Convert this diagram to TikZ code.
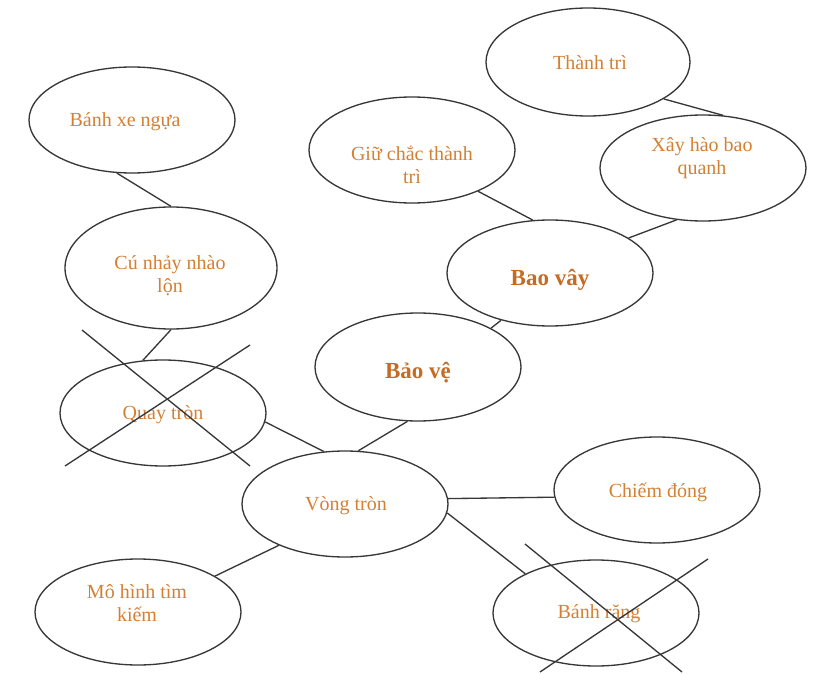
\documentclass[tikz,border=0pt]{standalone}
\usepackage{fontspec}
\setmainfont{Liberation Serif}
\usetikzlibrary{shapes.geometric}
\definecolor{txt}{RGB}{212,128,52}
\definecolor{txtb}{RGB}{196,108,36}
\definecolor{ln}{RGB}{55,55,55}
\begin{document}
\begin{tikzpicture}[x=0.75pt,y=-0.75pt,
  bub/.style={draw=ln, line width=1pt, ellipse, inner sep=0pt,
    minimum width=154.5pt, minimum height=79.5pt},
  lbl/.style={text=txt, align=center, inner sep=0pt,
    font=\fontsize{15pt}{17.25pt}\selectfont},
  lblb/.style={text=txtb, align=center, inner sep=0pt,
    font=\fontsize{17.25pt}{19pt}\selectfont\bfseries},
  link/.style={draw=ln, line width=1pt},
  cross/.style={draw=ln, line width=1pt}]
\useasboundingbox[fill=white] (0,0) rectangle (836,674);

% ellipses
\node[bub] (bx) at (132,120) {};
\node[bub, minimum width=159pt, minimum height=91.5pt] (cn) at (171,268) {};
\node[bub] (qt) at (163,413) {};
\node[bub] (gc) at (412,150) {};
\node[bub, minimum width=153pt, minimum height=81pt] (tt) at (588,62) {};
\node[bub] (xh) at (703,168) {};
\node[bub] (bv) at (550,273) {};
\node[bub, minimum height=81pt] (bve) at (418,367) {};
\node[bub] (vt) at (345,504) {};
\node[bub] (cd) at (657,490) {};
\node[bub] (mh) at (138,612) {};
\node[bub] (br) at (596,613) {};

% labels
\node[lbl] (bxt) at (125,122) {Bánh xe ngựa};
\node[lbl] (cnt) at (170,276) {Cú nhảy nhào\\lộn};
\node[lbl] (qtt) at (163,415) {Quay tròn};
\node[lbl] (gct) at (412,165) {Giữ chắc thành\\trì};
\node[lbl] (ttt) at (590,63) {Thành trì};
\node[lbl] (xht) at (702,158) {Xây hào bao\\quanh};
\node[lblb] (bvt) at (550,280) {Bao vây};
\node[lblb] (bvet) at (418,373) {Bảo vệ};
\node[lbl] (vtt) at (346,506) {Vòng tròn};
\node[lbl] (cdt) at (658,492) {Chiếm đóng};
\node[lbl] (mht) at (137,603) {Mô hình tìm\\kiếm};
\node[lbl] (brt) at (599,614) {Bánh răng};

% connectors
\draw[link] (bx.254) -- (cn.90);
\draw[link] (cn.270) -- (qt.111);
\draw[link] (qt.355) -- (vt.112);
\draw[link] (bve.259) -- (vt.76);
\draw[link] (bve.28) -- (bv.224);
\draw[link] (bv.108) -- (gc.328);
\draw[link] (bv.24) -- (xh.243);
\draw[link] (tt.334) -- (xh.69);
\draw[link] (vt.3) -- (cd.184);
\draw[link] (vt.355) -- (br.151);
\draw[link] (vt.212) -- (mh.25);

% crossing-out lines
\coordinate (qa1) at (82,330);
\coordinate (qa2) at (250,466);
\coordinate (qb1) at (250,345);
\coordinate (qb2) at (65,466);
\coordinate (ra1) at (525,544);
\coordinate (ra2) at (682,672);
\coordinate (rb1) at (708,559);
\coordinate (rb2) at (540,672);
\draw[cross] (qa1) -- (qa2);
\draw[cross] (qb1) -- (qb2);
\draw[cross] (ra1) -- (ra2);
\draw[cross] (rb1) -- (rb2);
\end{tikzpicture}
\end{document}
